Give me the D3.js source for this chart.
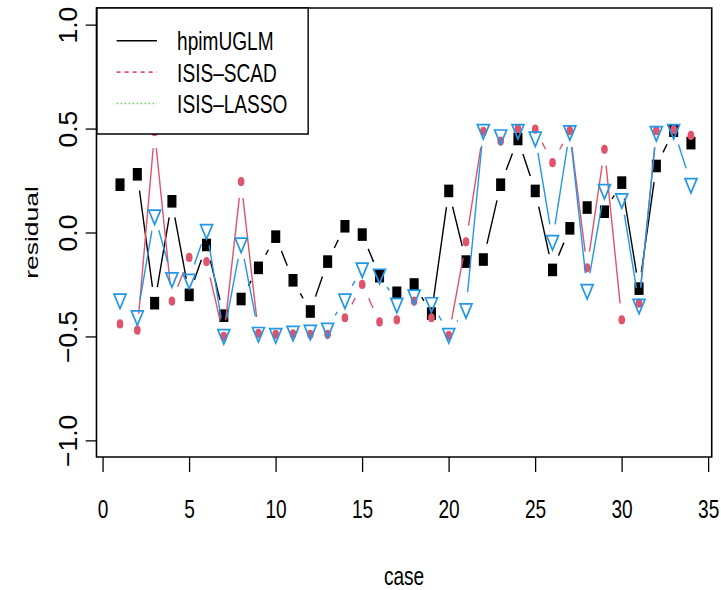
<!DOCTYPE html>
<html lang="en">
<head>
  <meta charset="UTF-8">
  <title>Residuals by case</title>
  <script src="https://d3js.org/d3.v7.min.js"></script>
  <style>
    body { margin: 0; background: #fff; }
    text { font-family: "Liberation Sans", Arial, Helvetica, sans-serif; }
  </style>
</head>
<body>
<script>
  const cases = [1, 2, 3, 4, 5, 6, 7, 8, 9, 10, 11, 12, 13, 14, 15, 16, 17,
    18, 19, 20, 21, 22, 23, 24, 25, 26, 27, 28, 29, 30, 31, 32, 33, 34];
  const hpimUGLM = [0.23, 0.28, -0.34, 0.15, -0.30, -0.06, -0.40, -0.32, -0.17, -0.02,
    -0.23, -0.38, -0.14, 0.03, -0.01, -0.21, -0.29, -0.25, -0.39, 0.20, -0.14, -0.13,
    0.23, 0.45, 0.20, -0.18, 0.02, 0.12, 0.10, 0.24, -0.27, 0.32, 0.49, 0.43];
  const isisSCAD = [-0.44, -0.47, 0.485, -0.33, -0.12, -0.14, -0.50, 0.245, -0.485, -0.49,
    -0.487, -0.49, -0.49, -0.41, -0.25, -0.43, -0.42, -0.33, -0.41, -0.495, -0.045, 0.487,
    0.44, 0.50, 0.497, 0.336, 0.49, -0.17, 0.40, -0.42, -0.34, 0.49, 0.495, 0.467];
  const isisLASSO = [-0.32, -0.40, 0.085, -0.217, -0.225, 0.015, -0.49, -0.05, -0.48, -0.486,
    -0.475, -0.47, -0.46, -0.32, -0.17, -0.20, -0.34, -0.30, -0.337, -0.486, -0.366, 0.496,
    0.47, 0.496, 0.46, -0.038, 0.49, -0.274, 0.207, 0.163, -0.345, 0.486, 0.496, 0.236];
  const xTicks = [0, 5, 10, 15, 20, 25, 30, 35];
  const yTicks = [-1, -0.5, 0, 0.5, 1];
  const seriesNames = ["hpimUGLM", "ISIS-SCAD", "ISIS-LASSO"];

  const width = 721, height = 590;
  const sx = 0.72; // the picture is squeezed sideways, so draw wide and scale x
  const plotLeft = 134, plotRight = 988.5, plotTop = 8, plotBottom = 457;
  const fontSize = 26.5;
  const gap = 16.5; // type "b" gap around each point

  const x = d3.scaleLinear().domain([-0.36, 35.2]).range([plotLeft, plotRight]);
  const y = d3.scaleLinear().domain([-1.08, 1.08]).range([plotBottom, plotTop]);

  const series = [
    {name: seriesNames[0], values: hpimUGLM, color: "#000000", shape: "square"},
    {name: seriesNames[1], values: isisSCAD, color: "#DF536B", shape: "circle"},
    {name: seriesNames[2], values: isisLASSO, color: "#2297E6", shape: "triangle"}
  ];

  const svg = d3.select("body").append("svg")
    .attr("width", width)
    .attr("height", height)
    .style("display", "block");

  svg.append("rect")
    .attr("width", width)
    .attr("height", height)
    .attr("fill", "#fff");

  const g = svg.append("g")
    .attr("transform", "scale(" + sx + ",1)");

  // lines with gaps, then points, one series after another
  series.forEach(function (s) {
    const pts = cases.map((c, i) => [x(c), y(s.values[i])]);
    for (let i = 0; i < pts.length - 1; i++) {
      const dx = pts[i + 1][0] - pts[i][0],
        dy = pts[i + 1][1] - pts[i][1];
      const d = Math.sqrt(dx * dx + dy * dy);
      if (d <= 2 * gap) continue;
      const ux = dx / d, uy = dy / d;
      g.append("line")
        .attr("x1", pts[i][0] + ux * gap)
        .attr("y1", pts[i][1] + uy * gap)
        .attr("x2", pts[i + 1][0] - ux * gap)
        .attr("y2", pts[i + 1][1] - uy * gap)
        .attr("stroke", s.color)
        .attr("stroke-width", 1.4)
        .attr("vector-effect", "non-scaling-stroke");
    }

    const marks = g.append("g").selectAll("path")
      .data(pts)
      .enter().append("path")
      .attr("transform", d => "translate(" + d[0] + "," + d[1] + ")");

    if (s.shape === "square") {
      marks.attr("d", "M-6.3,-6.3H6.3V6.3H-6.3Z").attr("fill", s.color);
    } else if (s.shape === "circle") {
      marks.attr("d", d3.symbol(d3.symbolCircle, Math.PI * 4.6 * 4.6)).attr("fill", s.color);
    } else {
      const r = 9.6, xc = 0.866 * r;
      marks.attr("d", "M" + (-xc) + "," + (-r / 2) + "L" + xc + "," + (-r / 2) + "L0," + r + "Z")
        .attr("fill", "none")
        .attr("stroke", s.color)
        .attr("stroke-width", 1.7)
        .attr("vector-effect", "non-scaling-stroke");
    }
  });

  // axes
  const xAxis = g.append("g")
    .attr("transform", "translate(0," + plotBottom + ")")
    .call(d3.axisBottom(x).tickValues(xTicks).tickSize(15).tickFormat(d3.format("d")));
  xAxis.select(".domain").remove();
  xAxis.selectAll("line")
    .attr("stroke", "#000")
    .attr("stroke-width", 1.3)
    .attr("vector-effect", "non-scaling-stroke");
  xAxis.selectAll("text")
    .attr("y", 61)
    .attr("dy", 0)
    .attr("fill", "#000")
    .style("font-size", fontSize + "px");

  const yAxis = g.append("g")
    .attr("transform", "translate(" + plotLeft + ",0)")
    .call(d3.axisLeft(y).tickValues(yTicks).tickSize(15).tickFormat(d3.format(".1f")));
  yAxis.select(".domain").remove();
  yAxis.selectAll("line")
    .attr("stroke", "#000")
    .attr("stroke-width", 1.3)
    .attr("vector-effect", "non-scaling-stroke");
  // the rotated tick labels keep their full width in the reference
  yAxis.selectAll("text")
    .attr("transform", "translate(-27,0) scale(" + (1 / sx) + ",1) rotate(-90)")
    .attr("x", 0)
    .attr("y", 0)
    .attr("dy", 0)
    .attr("text-anchor", "middle")
    .attr("fill", "#000")
    .style("font-size", fontSize + "px");

  // plot box
  g.append("rect")
    .attr("x", plotLeft)
    .attr("y", plotTop)
    .attr("width", plotRight - plotLeft)
    .attr("height", plotBottom - plotTop)
    .attr("fill", "none")
    .attr("stroke", "#000")
    .attr("stroke-width", 1.6)
    .attr("vector-effect", "non-scaling-stroke");

  // axis titles
  g.append("text")
    .attr("x", (plotLeft + plotRight) / 2)
    .attr("y", 585)
    .attr("text-anchor", "middle")
    .style("font-size", fontSize + "px")
    .text("case");

  g.append("text")
    .attr("transform", "translate(53," + y(0) + ") rotate(-90)")
    .attr("text-anchor", "middle")
    .style("font-size", fontSize + "px")
    .text("residual");

  // legend
  const legend = g.append("g");
  legend.append("rect")
    .attr("x", 134.7)
    .attr("y", plotTop)
    .attr("width", 428 - 134.7)
    .attr("height", 134 - plotTop)
    .attr("fill", "#fff")
    .attr("stroke", "#000")
    .attr("stroke-width", 1.4)
    .attr("vector-effect", "non-scaling-stroke");

  const legendStyles = [
    {color: "#000000", dash: null},
    {color: "#DF536B", dash: "4,4"},
    {color: "#61D04F", dash: "1.5,2.5"}
  ];
  const rowY = d3.scalePoint().domain(seriesNames).range([40.7, 103.5]);

  seriesNames.forEach(function (name, i) {
    legend.append("line")
      .attr("x1", 162)
      .attr("x2", 218)
      .attr("y1", rowY(name))
      .attr("y2", rowY(name))
      .attr("stroke", legendStyles[i].color)
      .attr("stroke-width", 1.6)
      .attr("stroke-dasharray", legendStyles[i].dash)
      .attr("vector-effect", "non-scaling-stroke");
    legend.append("text")
      .attr("x", 246)
      .attr("y", rowY(name))
      .attr("dy", "0.36em")
      .style("font-size", fontSize + "px")
      .text(name.replace("-", "\u2013"));
  });
</script>
</body>
</html>
